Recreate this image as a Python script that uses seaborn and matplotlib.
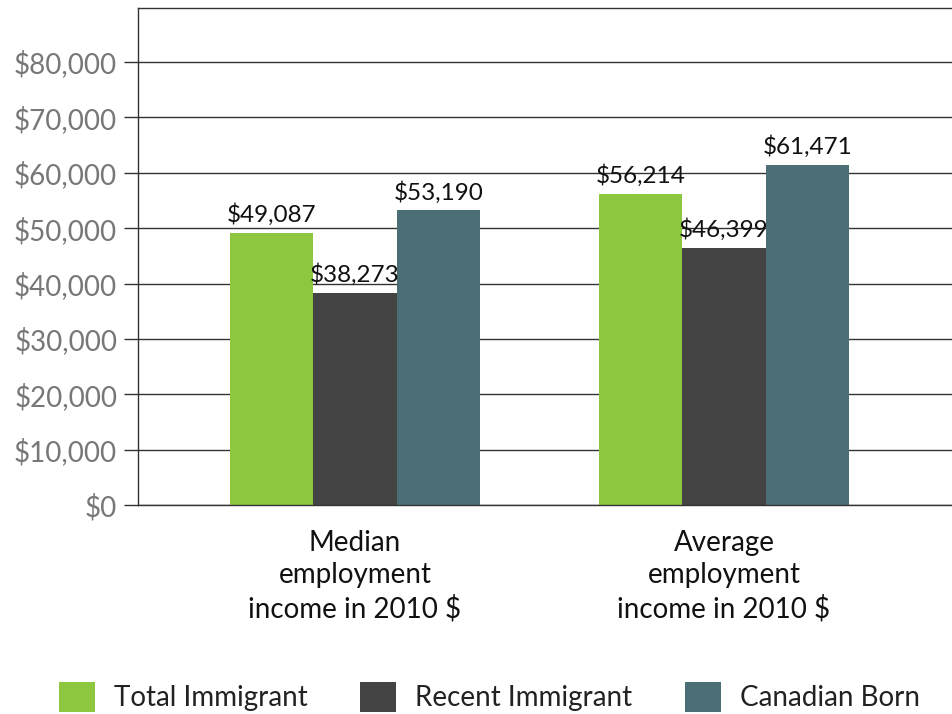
import matplotlib
matplotlib.use("Agg")
import matplotlib.pyplot as plt
import seaborn as sns
import pandas as pd
from matplotlib.patches import Patch

categories = ["Median\nemployment\nincome in 2010 $", "Average\nemployment\nincome in 2010 $"]
groups = ["Total Immigrant", "Recent Immigrant", "Canadian Born"]
total_immigrant = [49087, 56214]
recent_immigrant = [38273, 46399]
canadian_born = [53190, 61471]
colors = ["#8DC63F", "#444444", "#4B6F75"]
yticks = [0, 10000, 20000, 30000, 40000, 50000, 60000, 70000, 80000]

rows = []
for g, vals in zip(groups, [total_immigrant, recent_immigrant, canadian_born]):
    for c, v in zip(categories, vals):
        rows.append({"measure": c, "group": g, "value": v})
df = pd.DataFrame(rows)

sns.set_theme(style="white")
plt.rcParams["font.family"] = ["Lato", "DejaVu Sans"]

fig = plt.figure(figsize=(9.52, 7.14), dpi=100)
ax = fig.add_axes([0.145, 0.2927, 0.855, 0.6961])

sns.barplot(data=df, x="measure", y="value", hue="group", order=categories,
            hue_order=groups, palette=colors, saturation=1, width=0.68,
            ax=ax, legend=False, errorbar=None, linewidth=0, edgecolor="none")

ax.set_xlim(-0.588, 1.618)
ax.set_ylim(0, 89750)
ax.set_yticks(yticks)
ax.set_yticklabels([f"${v:,}" for v in yticks], fontsize=20, color="#777777")
ax.tick_params(axis="y", length=10, width=1, color="#333333", pad=5, left=True)
ax.tick_params(axis="x", length=0, pad=18, labelsize=20, labelcolor="#111111")
for lab in ax.get_xticklabels():
    lab.set_linespacing(1.3)
ax.set_xlabel("")
ax.set_ylabel("")
ax.yaxis.grid(True, color="#333333", linewidth=1.0)
ax.set_axisbelow(True)
for s in ["left", "top", "bottom"]:
    ax.spines[s].set_visible(True)
    ax.spines[s].set_color("#333333")
    ax.spines[s].set_linewidth(1.0)
ax.spines["right"].set_visible(False)

for cont in ax.containers:
    for bar in cont:
        h = bar.get_height()
        ax.annotate(f"${h:,.0f}", (bar.get_x() + bar.get_width() / 2, h),
                    xytext=(0, 5), textcoords="offset points",
                    ha="center", va="bottom", fontsize=17.5, color="#111111")

handles = [Patch(facecolor=c, edgecolor="none") for c in colors]
fig.legend(handles, groups, loc="center", bbox_to_anchor=(0.514, 0.024), ncol=3,
           frameon=False, fontsize=20, handlelength=1.3, handleheight=1.3,
           handletextpad=0.68, columnspacing=1.9, labelcolor="#222222")

fig.savefig("out.png", dpi=100)
